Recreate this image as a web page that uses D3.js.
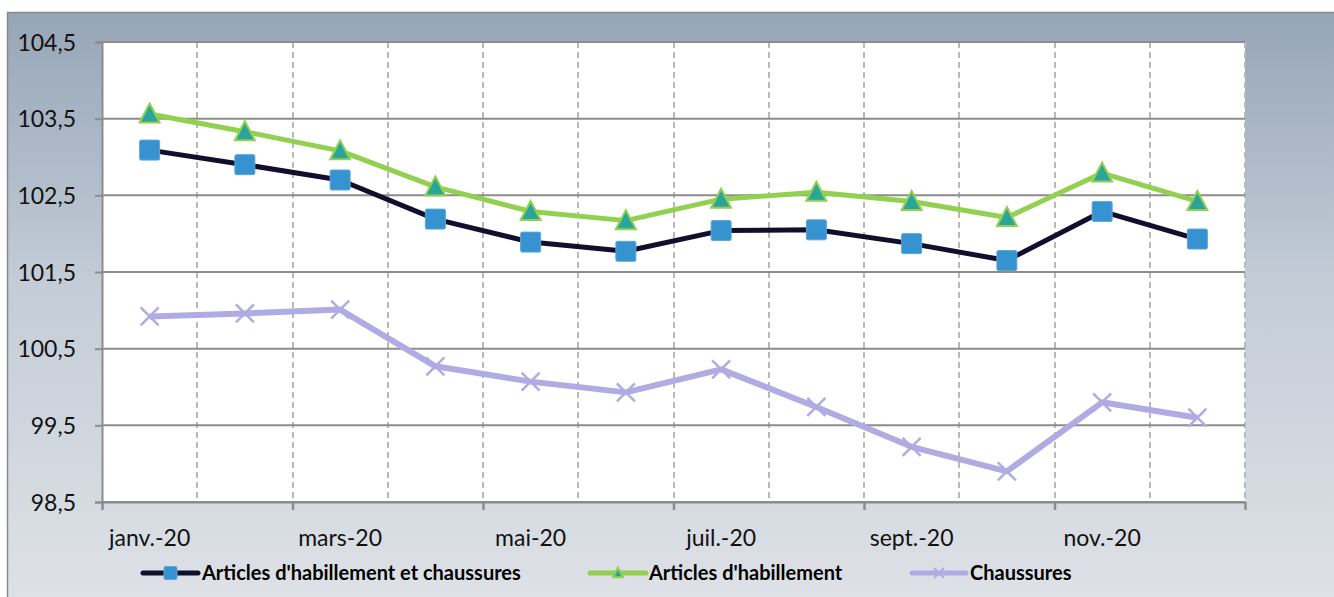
<!DOCTYPE html>
<html><head><meta charset="utf-8">
<script src="https://cdn.jsdelivr.net/npm/d3@7"></script>
<style>html,body{margin:0;padding:0;background:#fff;}svg{display:block;}</style>
</head><body>
<div id="chart"></div>
<script>
const categories = ["janv.-20","févr.-20","mars-20","avr.-20","mai-20","juin-20","juil.-20","août-20","sept.-20","oct.-20","nov.-20","déc.-20"];
const shownLabels = ["janv.-20","mars-20","mai-20","juil.-20","sept.-20","nov.-20"];
const seriesNames = ["Articles d'habillement et chaussures","Articles d'habillement","Chaussures"];
const habChaus = [103.09,102.90,102.70,102.19,101.89,101.77,102.04,102.05,101.87,101.65,102.29,101.93];
const habillement = [103.56,103.33,103.08,102.61,102.29,102.17,102.45,102.54,102.42,102.21,102.79,102.42];
const chaussures = [100.92,100.96,101.01,100.27,100.07,99.93,100.23,99.74,99.22,98.90,99.80,99.60];
const yTicks = [98.5,99.5,100.5,101.5,102.5,103.5,104.5];

const W = 1334, H = 597;
const M = {left:102, right:1245, top:42, bottom:502};
const svg = d3.select("#chart").append("svg").attr("width",W).attr("height",H);

const defs = svg.append("defs");
const bg = defs.append("linearGradient").attr("id","bg").attr("x1",0).attr("y1",0).attr("x2",0).attr("y2",1);
bg.append("stop").attr("offset","0%").attr("stop-color","#96a5b7");
bg.append("stop").attr("offset","45%").attr("stop-color","#c3ccd7");
bg.append("stop").attr("offset","100%").attr("stop-color","#dfe2e7");

svg.append("rect").attr("x",7.5).attr("y",12.5).attr("width",W).attr("height",H)
  .attr("fill","url(#bg)").attr("stroke","#8a8a8a").attr("stroke-width",1.5);

const x = d3.scaleBand().domain(categories).range([M.left,M.right]).padding(0);
const y = d3.scaleLinear().domain([98.5,104.5]).range([M.bottom,M.top]);
const fmt = d3.formatLocale({decimal:",",thousands:" ",grouping:[3],currency:["","€"]}).format(".1f");
const cx = d => x(d) + x.bandwidth()/2;

// plot area
svg.append("rect").attr("x",M.left).attr("y",M.top).attr("width",M.right-M.left).attr("height",M.bottom-M.top).attr("fill","#fff");

// vertical dashed gridlines at category boundaries
const g = svg.append("g");
g.selectAll("line.vg").data(categories).enter().append("line")
  .attr("x1",d=>Math.round(x(d)+x.bandwidth())).attr("x2",d=>Math.round(x(d)+x.bandwidth()))
  .attr("y1",M.top).attr("y2",M.bottom)
  .attr("stroke","#b9b9b9").attr("stroke-width",2).attr("stroke-dasharray","6,4");

// y axis
const yAxis = svg.append("g").attr("transform",`translate(${M.left},0)`)
  .call(d3.axisLeft(y).tickValues(yTicks).tickFormat(fmt).tickSize(7).tickPadding(19));
yAxis.select(".domain").attr("stroke","#8c8c8c").attr("stroke-width",2);
yAxis.selectAll(".tick line").attr("stroke","#8c8c8c").attr("stroke-width",2);
yAxis.selectAll(".tick text").attr("font-family","Lato").attr("font-size",23).attr("fill","#111").attr("dy","0.36em");
// horizontal gridlines
svg.append("g").selectAll("line").data(yTicks).enter().append("line")
  .attr("x1",M.left).attr("x2",M.right).attr("y1",d=>y(d)).attr("y2",d=>y(d))
  .attr("stroke","#8c8c8c").attr("stroke-width",2);

// x axis
const xLin = d3.scaleLinear().domain([0,categories.length]).range([M.left,M.right]);
const xAxis = svg.append("g").attr("transform",`translate(0,${M.bottom})`)
  .call(d3.axisBottom(xLin).tickValues(d3.range(0,categories.length+1,2)).tickFormat("").tickSize(8).tickSizeOuter(0));
xAxis.select(".domain").attr("stroke","#8c8c8c").attr("stroke-width",2);
xAxis.selectAll(".tick line").attr("stroke","#8c8c8c").attr("stroke-width",2.5);
svg.append("g").selectAll("text").data(shownLabels).enter().append("text")
  .attr("x",d=>cx(d)).attr("y",546).attr("text-anchor","middle")
  .attr("font-family","Lato").attr("font-size",23).attr("fill","#111").text(d=>d);

// lines
const line = d3.line().x((d,i)=>cx(categories[i])).y(d=>y(d));
const colors = {dark:"#110f2d", green:"#92d050", lav:"#b0abe3", blue:"#3792d0", teal:"#2ba59c"};

svg.append("path").datum(chaussures).attr("d",line).attr("fill","none").attr("stroke",colors.lav).attr("stroke-width",6).attr("stroke-linejoin","round");
svg.append("path").datum(habChaus).attr("d",line).attr("fill","none").attr("stroke",colors.dark).attr("stroke-width",5).attr("stroke-linejoin","round");
svg.append("path").datum(habillement).attr("d",line).attr("fill","none").attr("stroke",colors.green).attr("stroke-width",5).attr("stroke-linejoin","round");

function drawX(sel, s, w){
  sel.append("path").attr("d",`M${-s},${-s}L${s},${s}M${-s},${s}L${s},${-s}`).attr("stroke",colors.lav).attr("stroke-width",w).attr("fill","none");
}
function drawSq(sel, s){
  sel.append("rect").attr("x",-s).attr("y",-s).attr("width",2*s).attr("height",2*s).attr("rx",1.5)
    .attr("fill",colors.blue).attr("stroke","#5aa7dc").attr("stroke-width",1);
}
function drawTri(sel, s){
  sel.append("path").attr("d",`M0,${-s*1.05}L${s},${s*0.85}L${-s},${s*0.85}Z`)
    .attr("fill",colors.teal).attr("stroke",colors.green).attr("stroke-width",2).attr("stroke-linejoin","miter");
}

svg.append("g").selectAll("g").data(chaussures).enter().append("g")
  .attr("transform",(d,i)=>`translate(${cx(categories[i])},${y(d)})`).each(function(){drawX(d3.select(this),9,2.5);});
svg.append("g").selectAll("g").data(habChaus).enter().append("g")
  .attr("transform",(d,i)=>`translate(${cx(categories[i])},${y(d)})`).each(function(){drawSq(d3.select(this),10);});
svg.append("g").selectAll("g").data(habillement).enter().append("g")
  .attr("transform",(d,i)=>`translate(${cx(categories[i])},${y(d)})`).each(function(){drawTri(d3.select(this),10);});

// legend
const legend = [
  {name:seriesNames[0], x1:143, x2:198, tx:202, color:colors.dark, mk:"sq"},
  {name:seriesNames[1], x1:590, x2:646, tx:649, color:colors.green, mk:"tri"},
  {name:seriesNames[2], x1:912, x2:966, tx:970, color:colors.lav, mk:"x"}
];
const ly = 573;
legend.forEach(l=>{
  const gl = svg.append("g");
  gl.append("line").attr("x1",l.x1).attr("x2",l.x2).attr("y1",ly).attr("y2",ly)
    .attr("stroke",l.color).attr("stroke-width",5).attr("stroke-linecap","round");
  const m = gl.append("g").attr("transform",`translate(${(l.x1+l.x2)/2},${ly})`);
  if(l.mk==="sq") drawSq(m,6.5);
  if(l.mk==="tri") drawTri(m,5);
  if(l.mk==="x") drawX(m,5,2);
  gl.append("text").attr("x",l.tx).attr("y",ly+7).attr("font-family","Lato").attr("font-weight","bold")
    .attr("font-size",20).attr("fill","#000").text(l.name);
});
</script>
</body></html>
